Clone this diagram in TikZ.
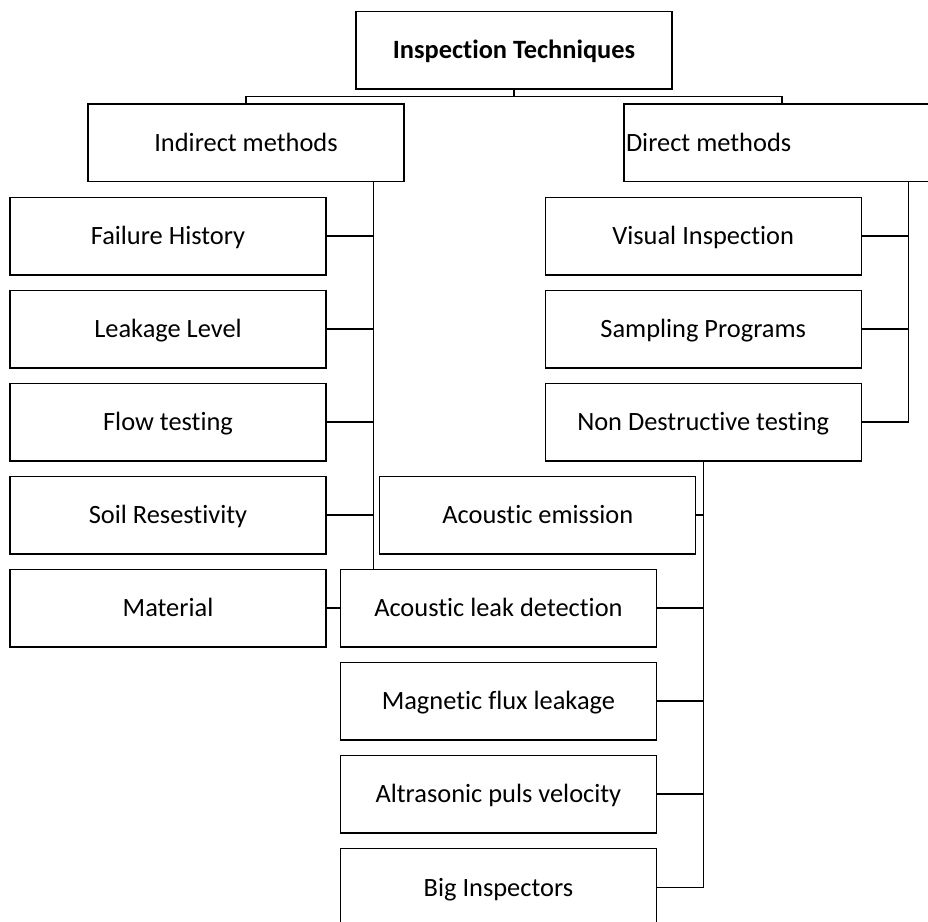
\documentclass[tikz,border=0pt]{standalone}
\usepackage{fontspec}
\setmainfont{Carlito}[Ligatures=NoCommon]
\pgfdeclarelayer{background}
\pgfsetlayers{background,main}
\tikzset{
  box/.style={draw=black, line width=1.3pt, fill=white, minimum width=316pt,
    minimum height=77.7pt, inner sep=0pt, text height=17pt, text depth=0pt,
    font=\fontsize{26.4}{30}\selectfont},
  conn/.style={draw=black, line width=1.3pt}
}
\begin{document}
\begin{tikzpicture}[x=1pt,y=-1pt]
\useasboundingbox (0,0) rectangle (928,921);
\clip (0,0) rectangle (928,921);
% level 0/1
\node[box, font=\fontsize{26.4}{30}\selectfont\bfseries] (top) at (514,50) {Inspection Techniques};
\node[box] (ind) at (246,142.8) {Indirect methods};
\node[box] (dir) at (782,142.8) {\makebox[312pt][l]{Direct methods}};
% indirect children
\node[box] (fh)  at (168,236) {Failure History};
\node[box] (ll)  at (168,329) {Leakage Level};
\node[box] (ft)  at (168,422) {Flow testing};
\node[box] (sr)  at (168,515) {Soil Resestivity};
\node[box] (mat) at (168,608) {Material};
% direct children
\node[box] (vi)  at (703.2,236) {Visual Inspection};
\node[box] (sp)  at (703.2,329) {Sampling Programs};
\node[box] (ndt) at (703.2,422) {Non Destructive testing};
% NDT children
\node[box] (ae)  at (537.8,515) {Acoustic emission};
\node[box] (ald) at (498.4,608) {Acoustic leak detection};
\node[box] (mfl) at (498.4,701) {Magnetic flux leakage};
\node[box] (apv) at (498.4,794) {Altrasonic puls velocity};
\node[box] (bi)  at (498.4,887.5) {Big Inspectors};
% spines
\coordinate (ispine) at ([xshift=-31.3pt]ind.south east);
\coordinate (dspine) at ([xshift=-32pt]dir.south east);
\begin{pgfonlayer}{background}
  \fill[white] (0,0) rectangle (928,921);
  \draw[conn] (top.south) -- ++(0,6.7) -| (ind.north);
  \draw[conn] (top.south) -- ++(0,6.7) -| (dir.north);
  \draw[conn] (ispine) |- (mat.east);
  \foreach \n in {fh,ll,ft,sr} \draw[conn] (\n.east) -- (\n.east -| ispine);
  \draw[conn] (dspine) |- (ndt.east);
  \foreach \n in {vi,sp} \draw[conn] (\n.east) -- (\n.east -| dspine);
  \draw[conn] (ndt.south) |- (bi.east);
  \foreach \n in {ae,ald,mfl,apv} \draw[conn] (\n.east) -- (\n.east -| ndt.south);
\end{pgfonlayer}
\end{tikzpicture}
\end{document}
